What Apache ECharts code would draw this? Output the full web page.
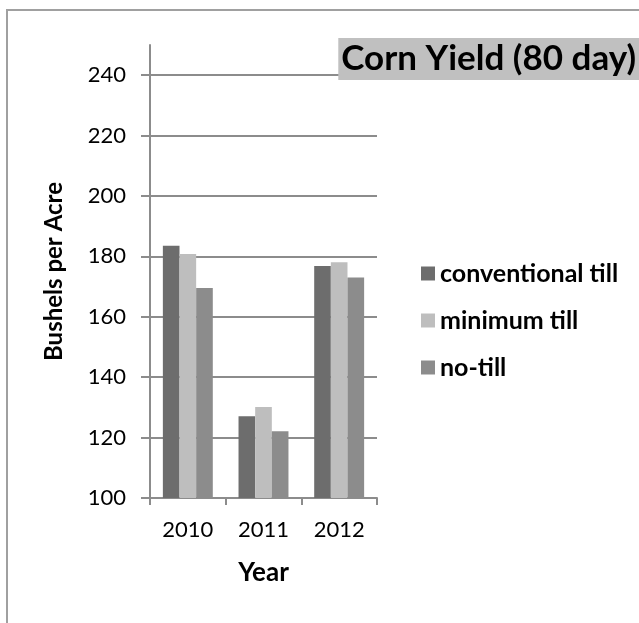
<!DOCTYPE html>
<html>
<head>
<meta charset="utf-8">
<script src="https://cdn.jsdelivr.net/npm/echarts@6/dist/echarts.min.js"></script>
<style>
  html, body { margin: 0; padding: 0; background: #ffffff; }
  #chart { width: 639px; height: 623px; }
</style>
</head>
<body>
<div id="chart"></div>
<script>
// Corn yield by tillage practice, 80-day hybrid
const years = ['2010', '2011', '2012'];
const conventionalTill = [183.5, 127.1, 176.8];
const minimumTill = [180.8, 130.1, 178.1];
const noTill = [169.5, 122.1, 173.0];
const yTicks = [100, 120, 140, 160, 180, 200, 220, 240];

const FONT = 'Lato';
const AXIS_GREY = '#8c8c8c';

const chart = echarts.init(document.getElementById('chart'), null, { renderer: 'canvas' });

chart.setOption({
  animation: false,
  backgroundColor: '#ffffff',
  textStyle: { fontFamily: FONT },
  title: {
    text: 'Corn Yield (80 day)',
    right: 0,
    top: 38,
    backgroundColor: '#c0c0c0',
    padding: [3, 3, 4, 3],
    textStyle: { fontFamily: FONT, fontSize: 35, fontWeight: 'bold', color: '#000000', lineHeight: 35 }
  },
  legend: {
    orient: 'vertical',
    left: 416,
    top: 256,
    itemWidth: 14,
    itemHeight: 14,
    itemGap: 22,
    itemStyle: { borderWidth: 0 },
    icon: 'rect',
    textStyle: { fontFamily: FONT, fontSize: 25, fontWeight: 'bold', color: '#000000', lineHeight: 25 },
    data: ['conventional till', 'minimum till', 'no-till']
  },
  graphic: [{
    type: 'rect',
    shape: { x: 7, y: 10, width: 700, height: 700 },
    style: { fill: 'none', stroke: '#a0a0a0', lineWidth: 2 },
    silent: true
  }],
  grid: { left: 150, right: 262, top: 45, bottom: 125, containLabel: false },
  xAxis: {
    type: 'category',
    data: years,
    name: 'Year',
    nameLocation: 'middle',
    nameGap: 62,
    nameTextStyle: { fontFamily: FONT, fontSize: 26, fontWeight: 'bold', color: '#000000' },
    axisLine: { lineStyle: { color: AXIS_GREY, width: 2 } },
    axisTick: { show: true, length: 7, lineStyle: { color: AXIS_GREY, width: 2 } },
    axisLabel: { fontFamily: FONT, fontSize: 22, color: '#000000', margin: 21 },
    splitLine: { show: false }
  },
  yAxis: {
    type: 'value',
    min: 100,
    max: 250,
    interval: 10,
    name: 'Bushels per Acre',
    nameLocation: 'middle',
    nameGap: 84,
    nameTextStyle: { fontFamily: FONT, fontSize: 24, fontWeight: 'bold', color: '#000000' },
    axisLine: { show: true, lineStyle: { color: AXIS_GREY, width: 2 } },
    axisTick: { show: true, length: 9, customValues: yTicks, lineStyle: { color: AXIS_GREY, width: 2 } },
    axisLabel: { fontFamily: FONT, fontSize: 22, color: '#000000', margin: 24, customValues: yTicks },
    splitLine: {
      show: true,
      lineStyle: { color: AXIS_GREY, width: 2 }
    }
  },
  series: [
    {
      name: 'conventional till', type: 'bar', data: conventionalTill,
      barGap: '0%', barCategoryGap: '34%',
      itemStyle: { color: '#6d6d6d' }
    },
    {
      name: 'minimum till', type: 'bar', data: minimumTill,
      barGap: '0%', barCategoryGap: '34%',
      itemStyle: { color: '#bebebe' }
    },
    {
      name: 'no-till', type: 'bar', data: noTill,
      barGap: '0%', barCategoryGap: '34%',
      itemStyle: { color: '#8c8c8c' }
    }
  ]
});
</script>
</body>
</html>
